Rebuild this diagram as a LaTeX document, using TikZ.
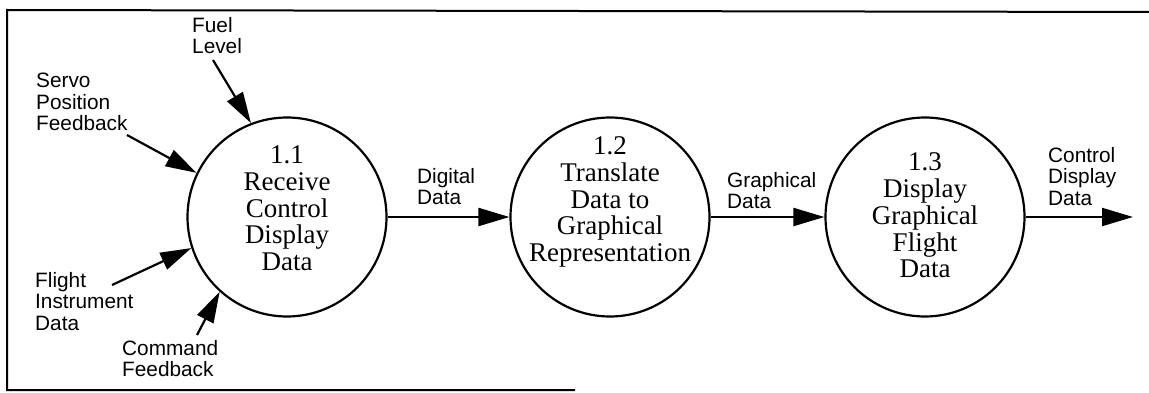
\documentclass[tikz,border=0pt]{standalone}
\usepackage{fontspec}
\newfontfamily\labelfont{Liberation Sans}
\newfontfamily\procfont{Liberation Serif}
\usetikzlibrary{arrows.meta}
\tikzset{
  proc/.style={circle, draw, line width=2.2pt, minimum size=199pt, inner sep=0pt},
  proctext/.style={align=center, inner sep=0pt,
    font=\procfont\fontsize{27}{26.7}\selectfont},
  flowlabel/.style={align=left, inner sep=0pt, anchor=north west,
    font=\labelfont\fontsize{20.8}{21.5}\selectfont},
  flow/.style={line width=2.2pt, -{Triangle[length=31pt,width=18pt]}},
  frame/.style={line width=2pt}
}
\begin{document}
\begin{tikzpicture}[x=1pt,y=-1pt]
\useasboundingbox (0,0) rectangle (1149,393);

% open frame
\coordinate (ftl) at (7,10);
\coordinate (ftr) at (1149,12);
\coordinate (fbl) at (7,390);
\coordinate (fbr) at (575,390);
\draw[frame] (ftr) -- (ftl) -- (fbl) -- (fbr);

% processes
\node[proc] (p1) at (287,217) {};
\node[proc] (p2) at (610,217) {};
\node[proc] (p3) at (925,217) {};
\node[proctext] (t1) at (287,208.5) {1.1\\Receive\\Control\\Display\\Data};
\node[proctext] (t2) at (610,202) {1.2\\Translate\\Data to\\Graphical\\Representation};
\node[proctext] (t3) at (925,215.5) {1.3\\Display\\Graphical\\Flight\\Data};

% incoming flows
\coordinate (fuel) at (213,60);
\coordinate (servo) at (127,135);
\coordinate (flight) at (112,285);
\coordinate (cmd) at (197,335);
\draw[flow] (fuel) -- (p1.111);
\draw[flow] (servo) -- (p1.154);
\draw[flow] (flight) -- (p1.198);
\draw[flow] (cmd) -- (p1.228);

% flows between processes
\coordinate (out) at (1133,217);
\draw[flow] (p1.east) -- (p2.west);
\draw[flow] (p2.east) -- (p3.west);
\draw[flow] (p3.east) -- (out);

% flow labels
\node[flowlabel] (lfuel) at (192,17) {Fuel\\Level};
\node[flowlabel] (lservo) at (36,73) {Servo\\Position\\Feedback};
\node[flowlabel] (lflight) at (35,272) {Flight\\Instrument\\Data};
\node[flowlabel] (lcmd) at (122,340) {Command\\Feedback};
\node[flowlabel] (ldig) at (417,168) {Digital\\Data};
\node[flowlabel] (lgra) at (727,172) {Graphical\\Data};
\node[flowlabel] (lout) at (1048,147) {Control\\Display\\Data};
\end{tikzpicture}
\end{document}
